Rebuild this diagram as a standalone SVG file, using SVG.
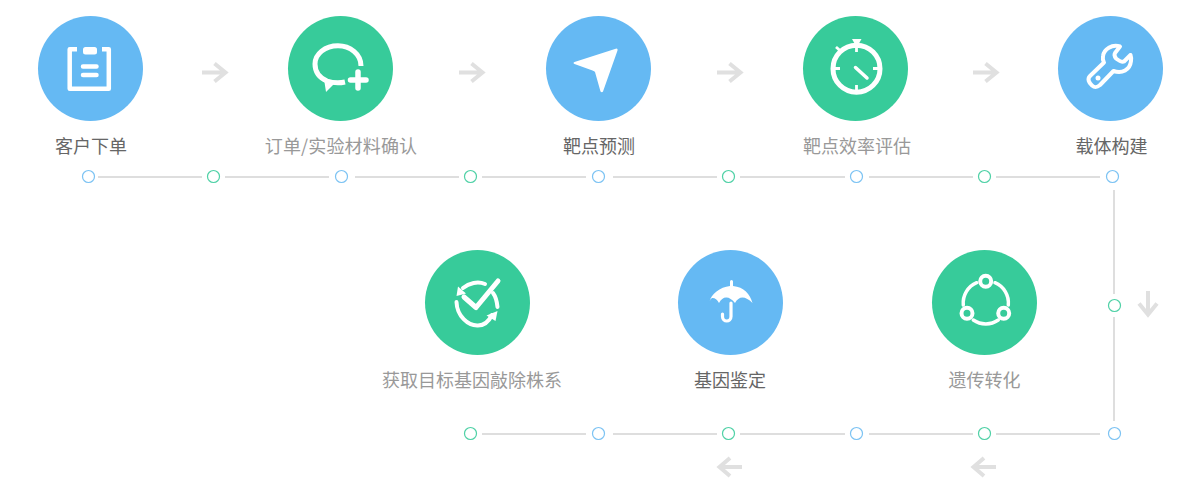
<svg xmlns="http://www.w3.org/2000/svg" width="1200" height="486" viewBox="0 0 1200 486">
<style>
.b{fill:#65b9f3}.g{fill:#37cb9a}
.i{fill:none;stroke:#fff;stroke-width:4;stroke-linecap:round;stroke-linejoin:round}
.f{fill:#fff;stroke:none}
.d{fill:#fff;stroke-width:1.200}
.db{stroke:#7cc3f3}.dg{stroke:#4fd1a6}
.l{fill:none;stroke:#dedede;stroke-width:2}
.a{fill:none;stroke:#e0e0e0;stroke-width:4}
text{font-family:"Noto Sans CJK SC","Noto Sans",sans-serif;font-size:18px;text-anchor:middle}
.t1{fill:#666}.t2{fill:#999}
</style>
<g id="connectors">
<path class="l" d="M98 177H202M225 177H329M355 177H459M482 177H586M613 177H717M740 177H845M869 177H973M996 177H1100M1114 190V294M1114 317V421M482 434H586M613 434H717M740 434H845M869 434H973M996 434H1100"/>
<path class="a" d="M202 72.500H225M214.500 63.500L225.500 72.500L214.500 81.500"/>
<path class="a" d="M459 72.500H482M471.500 63.500L482.500 72.500L471.500 81.500"/>
<path class="a" d="M717 72.500H740M729.500 63.500L740.500 72.500L729.500 81.500"/>
<path class="a" d="M973 72.500H996M985.500 63.500L996.500 72.500L985.500 81.500"/>
<path class="a" d="M1148 291V314M1139 303.500L1148 314.500L1157 303.500"/>
<path class="a" d="M742 467H719M730 458L719.500 467L730 476"/>
<path class="a" d="M996 467H973M984 458L973.500 467L984 476"/>
<g id="dots-top">
<circle class="d db" cx="88.500" cy="176.500" r="6"/><circle class="d dg" cx="213.500" cy="176.500" r="6"/><circle class="d db" cx="341.500" cy="176.500" r="6"/><circle class="d dg" cx="470.500" cy="176.500" r="6"/><circle class="d db" cx="598.500" cy="176.500" r="6"/><circle class="d dg" cx="728.500" cy="176.500" r="6"/><circle class="d db" cx="856.500" cy="176.500" r="6"/><circle class="d dg" cx="984.500" cy="176.500" r="6"/><circle class="d db" cx="1112.500" cy="176.500" r="6"/>
</g>
<circle class="d dg" cx="1114.500" cy="305.500" r="6"/>
<g id="dots-bottom">
<circle class="d dg" cx="470.500" cy="433.500" r="6"/><circle class="d db" cx="598.500" cy="433.500" r="6"/><circle class="d dg" cx="728.500" cy="433.500" r="6"/><circle class="d db" cx="856.500" cy="433.500" r="6"/><circle class="d dg" cx="984.500" cy="433.500" r="6"/><circle class="d db" cx="1114.500" cy="433.500" r="6"/>
</g>
</g>
<g id="n1">
<circle class="b" cx="90.500" cy="68.500" r="52.500"/>
<path class="i" style="stroke-width:4.500;stroke-linecap:butt" d="M77 49.200H69.700V88.800H108.800V49.200H102"/>
<rect class="f" x="83" y="47" width="14" height="7.500" rx="2.500"/>
<path class="i" style="stroke-width:4.500" d="M83 66.500H96.500M83 75H96.500"/>
<text class="t1" x="91" y="153">客户下单</text>
</g>
<g id="n2">
<circle class="g" cx="340.500" cy="68.500" r="52.500"/>
<path class="i" style="stroke-width:5;stroke-linecap:butt" d="M361 66C361 54 350 45.800 338 45.800C325 45.800 315 54 315 64C315 72 320 78 327 81C333 83 338 83.500 345 82"/>
<path class="f" d="M324 79L326 92L335 83Z"/>
<path class="i" style="stroke-width:5.500" d="M350.500 80H366M358 72V88"/>
<text class="t2" x="341" y="153" style="letter-spacing:.15px">订单/实验材料确认</text>
</g>
<g id="n3">
<circle class="b" cx="598.500" cy="68.500" r="52.500"/>
<path class="f" d="M616.500 48.500Q618 48.500 617.500 50.500L603 91.500Q602 93 600.500 91.500L595 72Q594.500 71 592.500 70.500L574.500 64Q572.500 63 574.500 62Z"/>
<text class="t1" x="599" y="153">靶点预测</text>
</g>
<g id="n4">
<circle class="g" cx="855.500" cy="68.500" r="52.500"/>
<circle class="i" style="stroke-width:5" cx="856.500" cy="68.700" r="23.500"/>
<path class="i" style="stroke-width:2.800;stroke-linecap:butt" d="M856.500 44V52M856.500 85V91M834 68.500H840M873 68.500H879M836 47L840 50.500"/>
<path class="f" d="M852 39H861.500L859 43.500H854.500Z"/>
<path class="i" style="stroke-width:3.500" d="M855.500 67.500L867 78"/>
<text class="t2" x="857" y="153">靶点效率评估</text>
</g>
<g id="n5">
<circle class="b" cx="1110.500" cy="68.500" r="52.500"/>
<path class="i" d="M1120 46.500C1112 44 1104 49 1103 56C1102.500 59 1103 61 1104 62.500L1090 76C1087 79 1089 83 1092 85.500C1095 88 1097 87.500 1100 85L1113.500 71C1122 74 1130 70 1131 61C1131.300 59 1131 56.500 1130.500 55L1124 61.500C1122 62.500 1118 60 1116 58.500C1115 57 1114 54.500 1115 53Z"/>
<circle class="f" cx="1098" cy="78" r="2.500"/>
<text class="t1" x="1111.500" y="153">载体构建</text>
</g>
<g id="n6">
<circle class="g" cx="984.500" cy="302.500" r="52.500"/>
<g class="i">
<circle cx="985.700" cy="281.300" r="5.500"/><circle cx="967" cy="313.300" r="5.500"/><circle cx="1003.700" cy="313.300" r="5.500"/>
<path style="stroke-width:3.500" d="M976.700 282.700A22 22 0 0 0 963.300 305M995 282.700A22 22 0 0 1 1008.300 305M973.300 320A22 22 0 0 0 998.300 320"/>
</g>
<text class="t2" x="984.500" y="387">遗传转化</text>
</g>
<g id="n7">
<circle class="b" cx="730.500" cy="302.500" r="52.500"/>
<path class="f" d="M731.500 280Q733 280 733 281.500V286C744 287 750 294 752.500 303Q747 297.500 742.500 297.500Q738 297.500 735 303Q730 297 726 297.500Q722 297.500 719 303Q716 297.500 712 298Q710 299 709.500 302C711 294 720 287 730 286V281.500Q730 280 731.500 280Z"/>
<path class="i" style="stroke-width:3.200" d="M731 303V316.500C731 322.500 722.500 322.500 722.500 316.500V314"/>
<text class="t1" x="730" y="387">基因鉴定</text>
</g>
<g id="n8">
<circle class="g" cx="477.500" cy="302.500" r="52.500"/>
<path class="i" style="stroke-width:5" d="M464 297L476 307.500L498 281"/>
<path class="i" d="M463 288C469 283 478 281 485 284M493 293C496 297 497 302 497.500 307M456.500 302C457 316 468 326 478 325.500C484 325.500 489 321 492 315"/>
<path class="f" d="M458 286.500L466 293.500L456.500 296Z"/>
<path class="f" d="M497.500 311L495.500 321L486.500 315.500Z"/>
<text class="t2" x="472" y="387">获取目标基因敲除株系</text>
</g>
</svg>
